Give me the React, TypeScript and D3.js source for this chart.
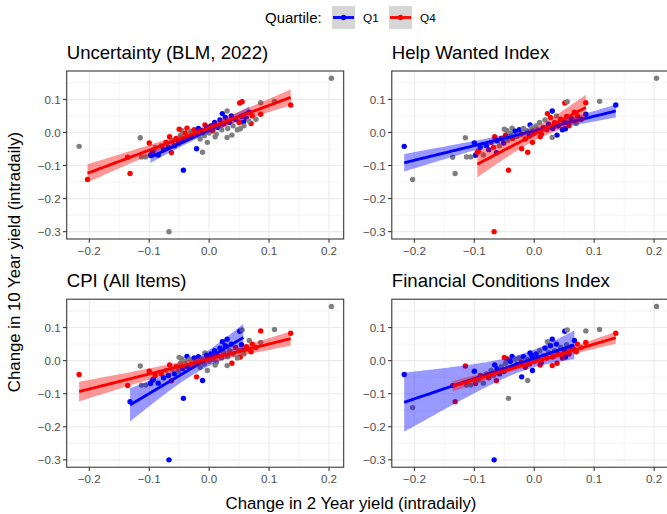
import React from "react";
import * as d3 from "d3";

// Intraday yield changes on announcement days (percentage points)
const change2y: number[] = [
  -0.217, -0.203, -0.132, -0.136, -0.115, -0.100, -0.067, -0.043, -0.021, -0.011,
  0.204, 0.109, 0.136, 0.086, 0.051, 0.055, 0.086, 0.070, 0.067, 0.022,
  0.030, -0.066, -0.063, -0.093, -0.098, -0.113, -0.106, -0.046, -0.037, 0.038,
  0.052, -0.007, 0.057, 0.010,
  -0.095, -0.090, -0.085, -0.080, -0.076, -0.072, -0.068, -0.062, -0.058, -0.055,
  -0.051, -0.048, -0.044, -0.040, -0.036, -0.032, -0.029, -0.025, -0.022, -0.018,
  -0.015, -0.012, -0.008, -0.004, 0.000, 0.003, 0.006, 0.009, 0.012, 0.015,
  0.018, 0.021, 0.024, 0.027, 0.031, 0.034, 0.037, 0.040, 0.044, 0.047,
  0.050, 0.054, 0.058, 0.062, 0.066, 0.072, 0.078, -0.003, 0.030, -0.050,
];
const change10y: number[] = [
  -0.042, -0.142, -0.124, -0.075, -0.016, -0.032, -0.300, -0.114, -0.049, -0.060,
  0.164, 0.094, 0.083, 0.090, 0.089, 0.093, 0.055, 0.027, 0.061, 0.057,
  0.065, -0.013, -0.061, -0.056, -0.069, -0.074, -0.074, 0.006, 0.013, -0.008,
  0.011, 0.023, 0.031, -0.013,
  -0.060, -0.045, -0.068, -0.040, -0.052, -0.030, -0.045, -0.025, -0.040, -0.018,
  -0.032, -0.008, -0.024, -0.002, -0.018, 0.004, -0.012, 0.008, -0.005, 0.012,
  -0.020, 0.005, -0.010, 0.015, -0.002, 0.020, 0.005, 0.030, -0.005, 0.015,
  0.038, 0.008, 0.025, 0.045, 0.012, 0.030, 0.050, 0.020, 0.040, 0.008,
  0.030, 0.048, 0.020, 0.042, 0.035, 0.050, 0.040, -0.030, -0.015, 0.010,
];

// Quartile of each indicator on the same days: 1 = Q1, 4 = Q4, 0 = Q2/Q3, null = missing
const quartileUncertainty: (number | null)[] = [
  0, 4, 4, 4, 0, 4, 0, 1, 1, 0, 0, 0, 4, 0, 4, 4, 4, 4, 1, 1, 0, 4, 4, 0, 1, 0, 0, 0, 4, 0, 0, 4, 1, 0,
  1, 0, 1, 0, 1, 4, 1, 0, 1, 4, 1, 0, 1, 4, 1, 0, 1, 4, 0, 1, 0, 1, 0, 1, 0, 1, 4, 1, 0, 1,
  1, 0, 4, 1, 0, 1, 1, 0, 1, 0, 4, 1, 0, 1, 0, 4, 0, 0, 0, 4,
];
const quartileHelpWanted: (number | null)[] = [
  1, 0, 0, 0, 0, 1, 4, 4, 4, 4, 0, 0, 1, 4, 4, 0, 1, 0, 4, 4, 1, 4, 1, 4, 1, 0, 0, 0, 0, 1, 1, 1, 0, 4,
  4, 1, 0, 1, 1, 4, 4, 1, 0, 4, 1, 4, 0, 0, 4, 1, 0, 1, 4, 0, 4, 0, 1, 0, 4, 0, 0, 0, 4, 4,
  0, 4, 1, 4, 1, 4, 0, 1, 4, 1, 1, 4, 4, 1, 4, 4, 1, 4, 0, 0,
];
const quartileCPI: (number | null)[] = [
  4, null, 1, 4, 0, 4, 1, 1, 4, 1, 0, 0, 4, 4, 1, 0, 0, 4, 0, 1, 1, 4, 4, 1, 1, 0, 0, 0, 1, 4, 4, 0, 1, 0,
  1, 4, 1, 4, 1, 0, 1, 0, 1, 4, 0, 0, 1, 0, 1, 0, 0, 1, 0, 1, 0, 0, 0, 1, 0, 1, 0, 1, 0, 4,
  1, 0, 0, 1, 0, 0, 1, 0, 4, 0, 0, 1, 0, 4, 4, 4, 4, 0, 0, 0,
];
const quartileFCI: (number | null)[] = [
  1, 0, 4, 4, 4, 1, 1, 0, 1, 0, 0, 0, 4, 0, 1, 0, 4, 4, 1, 0, 1, 1, 4, 4, 4, 0, 0, 4, 1, 4, 1, 1, 0, 4,
  0, 4, 0, 0, 4, 0, 0, 1, 1, 0, 1, 0, 4, 1, 0, 0, 1, 0, 4, 1, 4, 0, 4, 1, 0, 1, 4, 0, 4, 0,
  1, 4, 0, 1, 4, 0, 1, 4, 0, 4, 1, 0, 4, 1, 4, 4, 0, 1, 4, 4,
];

const panelTitles = ["Uncertainty (BLM, 2022)", "Help Wanted Index", "CPI (All Items)", "Financial Conditions Index"];
const panelQuartiles = [quartileUncertainty, quartileHelpWanted, quartileCPI, quartileFCI];
const xTicks = [-0.2, -0.1, 0, 0.1, 0.2];
const yTicks = [-0.3, -0.2, -0.1, 0, 0.1];
const xMinor = [-0.15, -0.05, 0.05, 0.15];
const yMinor = [-0.25, -0.15, -0.05, 0.05, 0.15];
const legendKeys = [
  { q: 1, label: "Q1" },
  { q: 4, label: "Q4" },
];

const COLORS: Record<number, string> = { 0: "#7f7f7f", 1: "#0000ff", 4: "#ff0000" };
const FONT = "'Liberation Sans', Arial, Helvetica, sans-serif";

const W = 667;
const H = 514;
const panelW = 277;
const panelH = 168;
const panelLeft = [66.7, 391.8];
const panelTop = [71, 299.2];

// 97.5% Student t quantile (Cornish-Fisher expansion)
function tQuantile975(df: number): number {
  const z = 1.959964;
  const g1 = (z ** 3 + z) / 4;
  const g2 = (5 * z ** 5 + 16 * z ** 3 + 3 * z) / 96;
  const g3 = (3 * z ** 7 + 19 * z ** 5 + 17 * z ** 3 - 15 * z) / 384;
  return z + g1 / df + g2 / df ** 2 + g3 / df ** 3;
}

type FitPt = { x: number; y: number; lo: number; hi: number };

// Ordinary least squares line with 95% confidence band
function linearFit(xs: number[], ys: number[], steps = 80): FitPt[] {
  const n = xs.length;
  const mx = d3.mean(xs)!;
  const my = d3.mean(ys)!;
  let sxx = 0;
  let sxy = 0;
  for (let i = 0; i < n; i++) {
    sxx += (xs[i] - mx) ** 2;
    sxy += (xs[i] - mx) * (ys[i] - my);
  }
  const b = sxy / sxx;
  const a = my - b * mx;
  let sse = 0;
  for (let i = 0; i < n; i++) sse += (ys[i] - a - b * xs[i]) ** 2;
  const s = Math.sqrt(sse / (n - 2));
  const t = tQuantile975(n - 2);
  const [lo, hi] = d3.extent(xs) as [number, number];
  return d3.range(steps).map((i) => {
    const x = lo + ((hi - lo) * i) / (steps - 1);
    const y = a + b * x;
    const se = s * Math.sqrt(1 / n + (x - mx) ** 2 / sxx);
    return { x, y, lo: y - t * se, hi: y + t * se };
  });
}

const xScale = d3.scaleLinear().domain([-0.2377, 0.2245]).range([0, panelW]);
const yScale = d3.scaleLinear().domain([-0.3222, 0.1858]).range([panelH, 0]);
const fmt = (v: number) => d3.format(".1f")(v).replace("-", "\u2212");

function Panel({ idx }: { idx: number }) {
  const left = panelLeft[idx % 2];
  const top = panelTop[Math.floor(idx / 2)];
  const quart = panelQuartiles[idx];
  const clipId = `clip-${idx}`;
  const pts = change2y
    .map((x, i) => ({ x, y: change10y[i], q: quart[i] }))
    .filter((p) => p.q !== null) as { x: number; y: number; q: number }[];

  const fits = [1, 4].map((q) => {
    const g = pts.filter((p) => p.q === q);
    return { q, fit: linearFit(g.map((p) => p.x), g.map((p) => p.y)) };
  });
  const area = d3
    .area<FitPt>()
    .x((d) => xScale(d.x))
    .y0((d) => yScale(d.lo))
    .y1((d) => yScale(d.hi));
  const line = d3
    .line<FitPt>()
    .x((d) => xScale(d.x))
    .y((d) => yScale(d.y));

  return (
    <g transform={`translate(${left},${top})`}>
      <text x={0} y={-12.5} fontSize={18.6} fill="#000" fontFamily={FONT}>
        {panelTitles[idx]}
      </text>
      <defs>
        <clipPath id={clipId}>
          <rect x={0} y={0} width={panelW} height={panelH} />
        </clipPath>
      </defs>
      <rect x={0} y={0} width={panelW} height={panelH} fill="#fff" />
      <g clipPath={`url(#${clipId})`}>
        {xMinor.map((v) => (
          <line key={`xm${v}`} x1={xScale(v)} x2={xScale(v)} y1={0} y2={panelH} stroke="#ebebeb" strokeWidth={0.55} />
        ))}
        {yMinor.map((v) => (
          <line key={`ym${v}`} x1={0} x2={panelW} y1={yScale(v)} y2={yScale(v)} stroke="#ebebeb" strokeWidth={0.55} />
        ))}
        {xTicks.map((v) => (
          <line key={`xg${v}`} x1={xScale(v)} x2={xScale(v)} y1={0} y2={panelH} stroke="#ebebeb" strokeWidth={1.1} />
        ))}
        {yTicks.map((v) => (
          <line key={`yg${v}`} x1={0} x2={panelW} y1={yScale(v)} y2={yScale(v)} stroke="#ebebeb" strokeWidth={1.1} />
        ))}
        {pts.map((p, i) => (
          <circle key={i} cx={xScale(p.x)} cy={yScale(p.y)} r={2.7} fill={COLORS[p.q]} />
        ))}
        {fits.map(({ q, fit }) => (
          <g key={q}>
            <path d={area(fit)!} fill={COLORS[q]} fillOpacity={0.4} />
            <path d={line(fit)!} fill="none" stroke={COLORS[q]} strokeWidth={2.85} />
          </g>
        ))}
      </g>
      <rect x={0} y={0} width={panelW} height={panelH} fill="none" stroke="#333" strokeWidth={1.07} />
      {yTicks.map((v) => (
        <g key={`yt${v}`}>
          <line x1={-3.7} x2={0} y1={yScale(v)} y2={yScale(v)} stroke="#333" strokeWidth={1.07} />
          <text x={-6} y={yScale(v)} dy="0.36em" textAnchor="end" fontSize={11.6} fill="#4d4d4d" fontFamily={FONT}>
            {fmt(v)}
          </text>
        </g>
      ))}
      {xTicks.map((v) => (
        <g key={`xt${v}`}>
          <line x1={xScale(v)} x2={xScale(v)} y1={panelH} y2={panelH + 3.7} stroke="#333" strokeWidth={1.07} />
          <text x={xScale(v)} y={panelH + 16.3} textAnchor="middle" fontSize={11.6} fill="#4d4d4d" fontFamily={FONT}>
            {fmt(v)}
          </text>
        </g>
      ))}
    </g>
  );
}

export default function App() {
  const keyX = [332, 389];
  return (
    <svg width={W} height={H} style={{ position: "absolute", left: 0, top: 0, background: "#fff" }}>
      <rect width={W} height={H} fill="#fff" />
      <text x={265} y={23} fontSize={15} fontFamily={FONT} fill="#000">
        Quartile:
      </text>
      {legendKeys.map((k, i) => (
        <g key={k.label} transform={`translate(${keyX[i]},6)`}>
          <rect width={23} height={23} fill="#d6d6d6" />
          <line x1={1} x2={22} y1={11.5} y2={11.5} stroke={COLORS[k.q]} strokeWidth={2.85} />
          <circle cx={11.5} cy={11.5} r={2.7} fill={COLORS[k.q]} />
          <text x={31} y={15.8} fontSize={11.8} fontFamily={FONT} fill="#000">
            {k.label}
          </text>
        </g>
      ))}
      {[0, 1, 2, 3].map((i) => (
        <Panel key={i} idx={i} />
      ))}
      <text x={351} y={509} textAnchor="middle" fontSize={16.8} fontFamily={FONT} fill="#000">
        Change in 2 Year yield (intradaily)
      </text>
      <text
        transform="translate(20,262) rotate(-90)"
        textAnchor="middle"
        fontSize={16.8}
        fontFamily={FONT}
        fill="#000"
      >
        Change in 10 Year yield (intradaily)
      </text>
    </svg>
  );
}
